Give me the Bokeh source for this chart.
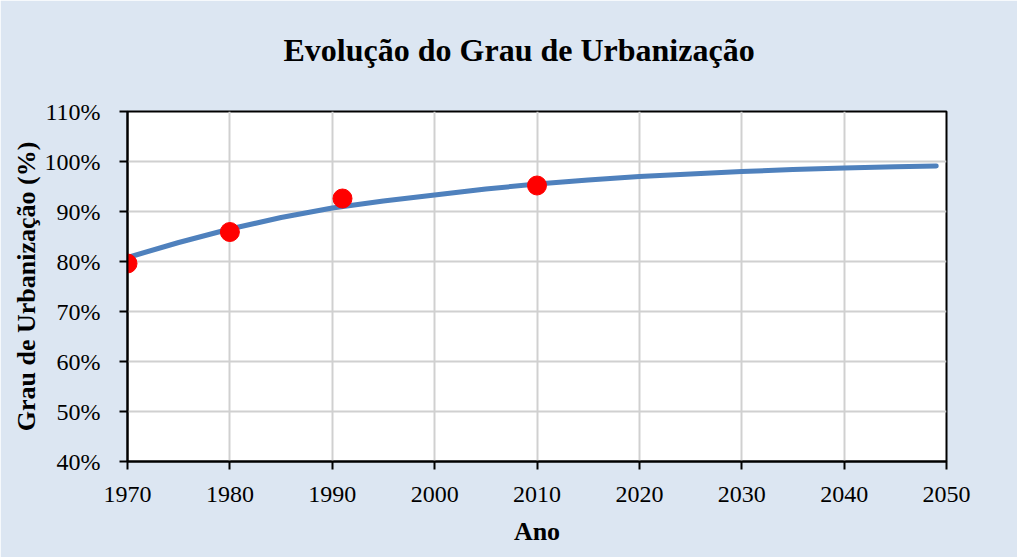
from bokeh.plotting import figure
from bokeh.models import Range1d, FixedTicker, PrintfTickFormatter, Title
from bokeh.embed import file_html
from bokeh.resources import INLINE

# Data
curve_years = [1970, 1975, 1980, 1985, 1990, 1995, 2000, 2005, 2010, 2015, 2020, 2025, 2030, 2035, 2040, 2045, 2049]
curve_values = [80.8, 83.8, 86.5, 88.8, 90.7, 92.1, 93.3, 94.5, 95.5, 96.3, 97.0, 97.5, 98.0, 98.4, 98.7, 98.95, 99.1]
obs_years = [1970, 1980, 1991, 2010]
obs_values = [79.6, 85.9, 92.6, 95.2]
x_ticks = [1970, 1980, 1990, 2000, 2010, 2020, 2030, 2040, 2050]
y_ticks = [40, 50, 60, 70, 80, 90, 100, 110]
title_text = "Evolução do Grau de Urbanização"

SERIF = "Liberation Serif"

p = figure(width=1017, height=557, output_backend="svg", toolbar_location=None,
           x_range=Range1d(1970, 2050), y_range=Range1d(40, 110),
           min_border_left=127, min_border_right=71, min_border_top=111, min_border_bottom=96,
           x_axis_label="Ano", y_axis_label="Grau de Urbanização (%)")

p.border_fill_color = "#dce6f2"
p.background_fill_color = "white"
p.outline_line_color = "black"
p.outline_line_width = 2

# spacer between title and plot frame, then the title itself
p.add_layout(Title(text=" ", text_font_size="10px", standoff=31), "above")
p.add_layout(Title(text=title_text, text_font=SERIF, text_font_size="32px",
                   text_font_style="bold", text_color="black", align="left",
                   offset=156, standoff=0), "above")

for ax in (p.xaxis[0], p.yaxis[0]):
    ax.axis_line_color = "black"
    ax.axis_line_width = 2
    ax.major_tick_line_color = "black"
    ax.major_tick_line_width = 2
    ax.major_tick_out = 8
    ax.major_tick_in = 0
    ax.minor_tick_line_color = None
    ax.major_label_text_font = SERIF
    ax.major_label_text_font_size = "24px"
    ax.major_label_text_color = "black"
    ax.axis_label_text_font = SERIF
    ax.axis_label_text_font_size = "26px"
    ax.axis_label_text_font_style = "bold"
    ax.axis_label_text_color = "black"

p.xaxis[0].ticker = FixedTicker(ticks=x_ticks)
p.yaxis[0].ticker = FixedTicker(ticks=y_ticks)
p.yaxis[0].formatter = PrintfTickFormatter(format="%d%%")
p.xaxis[0].major_label_standoff = 17
p.yaxis[0].major_label_standoff = 19
p.xaxis[0].axis_label_standoff = 12
p.yaxis[0].axis_label_standoff = 1

p.grid.grid_line_color = "#d0d0d0"
p.grid.grid_line_width = 2
p.xgrid.ticker = FixedTicker(ticks=x_ticks)
p.ygrid.ticker = FixedTicker(ticks=y_ticks)

p.line(curve_years, curve_values, line_color="#4f81bd", line_width=5, line_cap="round")
p.scatter(obs_years, obs_values, size=19, fill_color="#ff0000", line_color="#ff0000")

open("out.html", "w").write(file_html(p, INLINE))
